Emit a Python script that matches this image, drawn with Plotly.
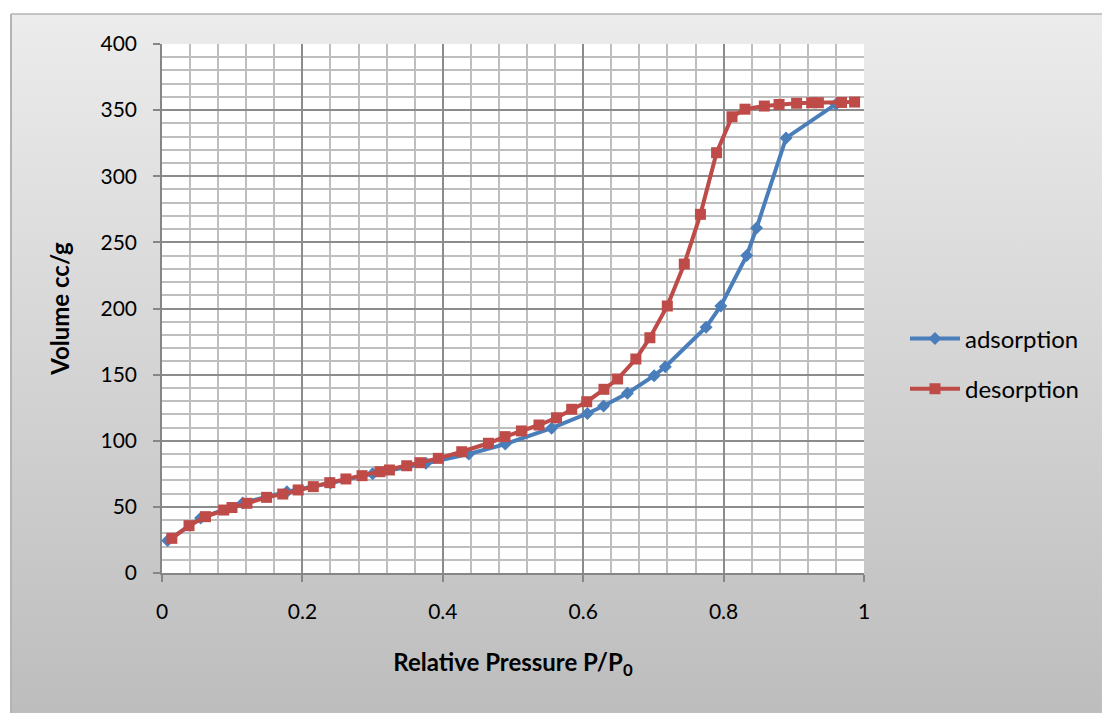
import base64
import plotly.graph_objects as go

# Nitrogen isotherm: relative pressure P/P0 vs adsorbed volume (cc/g)
ads_p = [0.008, 0.055, 0.115, 0.178, 0.24, 0.30, 0.376, 0.437, 0.489, 0.555,
         0.606, 0.629, 0.663, 0.701, 0.717, 0.775, 0.796, 0.833, 0.847, 0.889, 0.96]
ads_v = [24.5, 41.5, 53.0, 61.5, 68.0, 75.0, 83.0, 90.0, 97.5, 109.5,
         120.6, 126.3, 135.9, 149.2, 156.0, 185.8, 201.9, 240.1, 260.9, 329.0, 354.5]

des_p = [0.014, 0.0385, 0.062, 0.088, 0.0997, 0.121, 0.149, 0.172, 0.194, 0.2155,
         0.239, 0.262, 0.285, 0.3105, 0.324, 0.3486, 0.3675, 0.3936, 0.427, 0.465,
         0.4886, 0.512, 0.537, 0.562, 0.5836, 0.605, 0.6296, 0.649, 0.675, 0.695,
         0.7198, 0.744, 0.767, 0.790, 0.812, 0.8305, 0.858, 0.879, 0.904, 0.9255,
         0.935, 0.968, 0.9866]
des_v = [26.2, 35.8, 42.6, 47.6, 49.5, 52.7, 57.2, 59.7, 62.8, 65.3,
         68.3, 71.1, 73.6, 76.6, 77.9, 81.1, 83.4, 86.7, 91.7, 98.1,
         103.1, 107.4, 111.9, 117.4, 123.8, 129.5, 138.9, 146.7, 161.8, 177.9,
         201.9, 233.6, 271.2, 317.8, 345.0, 350.7, 353.1, 354.3, 355.2, 355.6,
         355.6, 355.8, 356.1]

BLUE = "#4A7EBB"
RED = "#BE4B48"
FONT = "Lato"

fig = go.Figure()
fig.add_trace(go.Scatter(
    x=ads_p, y=ads_v, name="adsorption", mode="lines+markers",
    line=dict(color=BLUE, width=4),
    marker=dict(symbol="diamond", size=10, color=BLUE),
    legendgroup="a",
))
fig.add_trace(go.Scatter(
    x=des_p, y=des_v, name="desorption", mode="lines+markers",
    line=dict(color=RED, width=4),
    marker=dict(symbol="square", size=11, color=RED),
    legendgroup="d",
))

# grey vertical gradient behind the chart
svg = (
    '<svg xmlns="http://www.w3.org/2000/svg" width="100" height="100" preserveAspectRatio="none">'
    '<defs><linearGradient id="g" x1="0" y1="0" x2="0" y2="1">'
    '<stop offset="0" stop-color="#ECECEC"/><stop offset="1" stop-color="#BDBDBD"/>'
    '</linearGradient></defs><rect width="100" height="100" fill="url(#g)"/></svg>'
)
src = "data:image/svg+xml;base64," + base64.b64encode(svg.encode()).decode()

W, H = 1102, 713
L, R, T, B = 162, 238, 44, 140
pw, ph = W - L - R, H - T - B


def px(xp):
    return (xp - L) / pw


def py(yp):
    return (H - B - yp) / ph


fig.add_layout_image(dict(
    source=src, xref="paper", yref="paper",
    x=px(11), y=py(14), sizex=(W - 11) / pw, sizey=(H - 14) / ph,
    xanchor="left", yanchor="top", sizing="stretch", layer="below",
))
# white plotting area on top of the gradient
fig.add_shape(type="rect", xref="paper", yref="paper", x0=0, x1=1, y0=0, y1=1,
              fillcolor="#FFFFFF", line=dict(width=0), layer="below")
fig.add_shape(type="line", xref="paper", yref="paper",
              x0=px(11), x1=px(W + 5), y0=py(14), y1=py(14),
              line=dict(color="#B4B4B4", width=1.5))
fig.add_shape(type="line", xref="paper", yref="paper",
              x0=px(11), x1=px(11), y0=py(14), y1=py(H + 5),
              line=dict(color="#B4B4B4", width=2))

axis_common = dict(
    showline=True, linecolor="#868686", linewidth=1.5,
    ticks="outside", ticklen=7, tickcolor="#868686", tickwidth=1.5,
    showgrid=True, gridcolor="#8C8C8C", gridwidth=1.5,
    zeroline=False, mirror=False,
    tickfont=dict(family=FONT, size=21, color="#000000"),
)
minor_common = dict(showgrid=True, gridcolor="#BEBEBE", gridwidth=1.8, ticks="")

fig.update_layout(
    width=W, height=H,
    margin=dict(l=L, r=R, t=T, b=B, pad=0),
    paper_bgcolor="#FFFFFF", plot_bgcolor="rgba(0,0,0,0)",
    font=dict(family=FONT, color="#000000"),
    xaxis=dict(
        range=[0, 1], dtick=0.2, tick0=0, tickformat="~g",
        minor=dict(dtick=0.04, **minor_common),
        title=dict(text="<b>Relative Pressure P/P<sub>0</sub></b>",
                   font=dict(family=FONT, size=24), standoff=32),
        ticklabelstandoff=12,
        **axis_common,
    ),
    yaxis=dict(
        range=[0, 400], dtick=50, tick0=0,
        minor=dict(dtick=10, **minor_common),
        title=dict(text="<b>Volume cc/g</b>", font=dict(family=FONT, size=24), standoff=24),
        ticklabelstandoff=12,
        **axis_common,
    ),
    legend=dict(
        x=px(905), y=py(364), xanchor="left", yanchor="middle",
        bgcolor="rgba(0,0,0,0)", font=dict(family=FONT, size=24),
        traceorder="grouped", tracegroupgap=16, itemwidth=50,
    ),
    showlegend=True,
)

fig.write_html("out.html")
